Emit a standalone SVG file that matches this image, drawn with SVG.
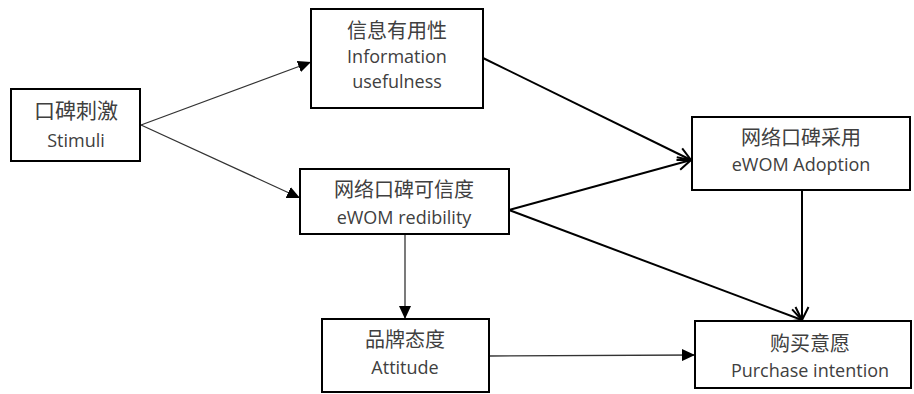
<svg xmlns="http://www.w3.org/2000/svg" width="914" height="394" viewBox="0 0 914 394">
<style>
.box{fill:#fff;stroke:#000;stroke-width:2}
.zh{font-family:"Noto Sans CJK SC","Noto Sans",sans-serif;font-size:20px;fill:#404040;text-anchor:middle}
.en{font-family:"Open Sans","Noto Sans",sans-serif;font-size:18px;fill:#404040;text-anchor:middle}
.thin{stroke:#333;stroke-width:1.3;fill:none}
.thick{stroke:#000;stroke-width:2;fill:none}
</style>
<defs>
<marker id="tri" markerUnits="userSpaceOnUse" markerWidth="14" markerHeight="12" refX="13" refY="6" orient="auto">
<path d="M0,0 L13,6 L0,12 Z" fill="#000"/>
</marker>
<marker id="vee" markerUnits="userSpaceOnUse" markerWidth="16" markerHeight="16" refX="14" refY="8" orient="auto">
<path d="M1,1.5 L14,8 L1,14.5" fill="none" stroke="#000" stroke-width="2"/>
</marker>
</defs>
<rect width="914" height="394" fill="#fff"/>
<g id="connectors">
<line class="thin" x1="141" y1="125" x2="311" y2="62" marker-end="url(#tri)"/>
<line class="thin" x1="141" y1="125" x2="300" y2="198" marker-end="url(#tri)"/>
<line class="thick" x1="483" y1="58" x2="691" y2="160" marker-end="url(#vee)"/>
<line class="thick" x1="509" y1="210" x2="691" y2="160" marker-end="url(#vee)"/>
<line class="thick" x1="509" y1="210" x2="802" y2="320" marker-end="url(#vee)"/>
<line class="thick" x1="802" y1="190" x2="802" y2="320" marker-end="url(#vee)"/>
<line class="thin" x1="405" y1="234" x2="405" y2="319" marker-end="url(#tri)"/>
<line class="thin" x1="489" y1="356" x2="695" y2="355" marker-end="url(#tri)"/>
</g>
<g id="stimuli">
<rect class="box" x="11" y="89" width="129" height="72"/>
<text class="zh" x="76" y="118" style="font-size:21px">口碑刺激</text>
<text class="en" x="76" y="147">Stimuli</text>
</g>
<g id="usefulness">
<rect class="box" x="311" y="9" width="172" height="99"/>
<text class="zh" x="397" y="38">信息有用性</text>
<text class="en" x="397" y="63">Information</text>
<text class="en" x="397" y="88">usefulness</text>
</g>
<g id="credibility">
<rect class="box" x="300" y="169" width="209" height="65"/>
<text class="zh" x="404" y="197">网络口碑可信度</text>
<text class="en" x="404" y="224">eWOM redibility</text>
</g>
<g id="adoption">
<rect class="box" x="692" y="117" width="218" height="73"/>
<text class="zh" x="801" y="145">网络口碑采用</text>
<text class="en" x="801" y="171">eWOM Adoption</text>
</g>
<g id="attitude">
<rect class="box" x="322" y="319" width="167" height="73"/>
<text class="zh" x="405" y="347">品牌态度</text>
<text class="en" x="405" y="374">Attitude</text>
</g>
<g id="purchase">
<rect class="box" x="695" y="321" width="216" height="67"/>
<text class="zh" x="810" y="351">购买意愿</text>
<text class="en" x="810" y="377">Purchase intention</text>
</g>
</svg>
